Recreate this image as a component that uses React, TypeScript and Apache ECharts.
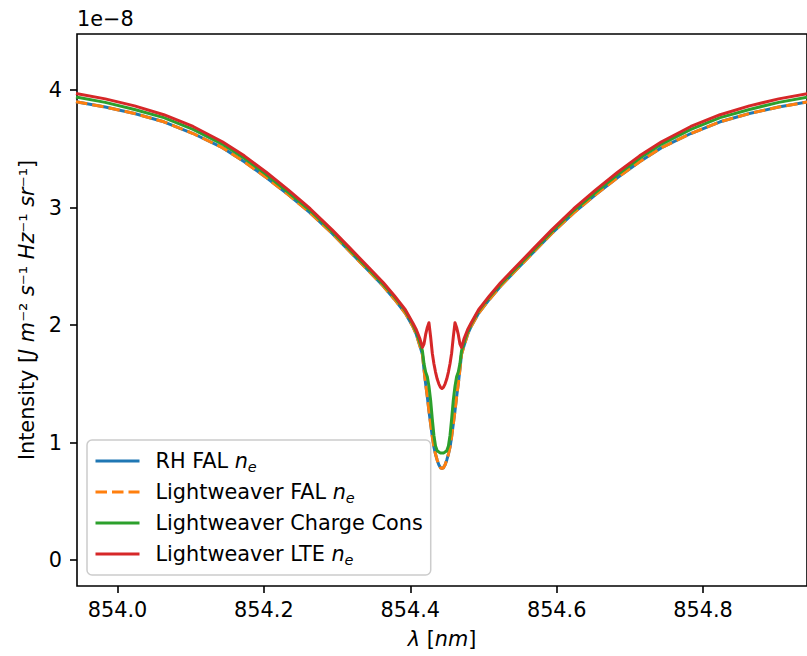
import { useEffect, useRef } from 'react';
import * as echarts from 'echarts';

// Wavelength grid (nm)
const wavelength = [
  853.9433, 853.9833, 854.0233, 854.0633, 854.1033, 854.1433, 854.1733, 854.2033, 854.2333,
  854.2633, 854.2933, 854.3183, 854.3433, 854.3633, 854.3783, 854.3933, 854.4033,
  854.4083, 854.4133, 854.4166, 854.4188, 854.421, 854.4233, 854.4255, 854.4278, 854.4301,
  854.4323, 854.4345, 854.4368, 854.439, 854.4413,
  854.4433,
  854.4453, 854.4476, 854.4498, 854.4521, 854.4543, 854.4565, 854.4588, 854.4611, 854.4633,
  854.4656, 854.4678, 854.47, 854.4733, 854.4783,
  854.4833, 854.4933, 854.5083, 854.5233, 854.5433, 854.5683, 854.5933, 854.6233, 854.6533,
  854.6833, 854.7133, 854.7433, 854.7833, 854.8233, 854.8633, 854.9033, 854.9433,
];

// Intensity (units of 1e-8 J m^-2 s^-1 Hz^-1 sr^-1)
const rhFalNe = [
  3.90, 3.855, 3.80, 3.73, 3.63, 3.51, 3.39, 3.255, 3.11,
  2.955, 2.78, 2.62, 2.46, 2.33, 2.22, 2.10, 1.99,
  1.92, 1.82, 1.75, 1.62, 1.50, 1.39, 1.27, 1.16, 1.05,
  0.96, 0.90, 0.85, 0.81, 0.785,
  0.78,
  0.785, 0.81, 0.85, 0.90, 0.96, 1.05, 1.16, 1.27, 1.39,
  1.50, 1.62, 1.75, 1.82, 1.92,
  1.99, 2.10, 2.22, 2.33, 2.46, 2.62, 2.78, 2.955, 3.11,
  3.255, 3.39, 3.51, 3.63, 3.73, 3.80, 3.855, 3.90,
];

const lwFalNe = [
  3.90, 3.855, 3.80, 3.73, 3.63, 3.51, 3.39, 3.255, 3.11,
  2.955, 2.78, 2.62, 2.46, 2.33, 2.22, 2.10, 1.99,
  1.92, 1.82, 1.75, 1.62, 1.50, 1.39, 1.27, 1.16, 1.05,
  0.96, 0.90, 0.85, 0.81, 0.785,
  0.78,
  0.785, 0.81, 0.85, 0.90, 0.96, 1.05, 1.16, 1.27, 1.39,
  1.50, 1.62, 1.75, 1.82, 1.92,
  1.99, 2.10, 2.22, 2.33, 2.46, 2.62, 2.78, 2.955, 3.11,
  3.255, 3.39, 3.51, 3.63, 3.73, 3.80, 3.855, 3.90,
];

const lwChargeCons = [
  3.94, 3.895, 3.835, 3.765, 3.665, 3.54, 3.42, 3.28, 3.13,
  2.975, 2.795, 2.635, 2.475, 2.345, 2.24, 2.12, 2.01,
  1.94, 1.85, 1.78, 1.67, 1.60, 1.56, 1.48, 1.36, 1.20,
  1.06, 0.97, 0.93, 0.92, 0.91,
  0.91,
  0.91, 0.92, 0.93, 0.97, 1.06, 1.20, 1.36, 1.48, 1.56,
  1.60, 1.67, 1.78, 1.85, 1.94,
  2.01, 2.12, 2.24, 2.345, 2.475, 2.635, 2.795, 2.975, 3.13,
  3.28, 3.42, 3.54, 3.665, 3.765, 3.835, 3.895, 3.94,
];

const lwLteNe = [
  3.97, 3.925, 3.865, 3.79, 3.69, 3.56, 3.44, 3.30, 3.15,
  2.99, 2.81, 2.65, 2.49, 2.36, 2.25, 2.13, 2.02,
  1.96, 1.88, 1.81, 1.84, 1.92, 1.98, 2.02, 1.90, 1.76,
  1.67, 1.60, 1.54, 1.50, 1.47,
  1.46,
  1.47, 1.50, 1.54, 1.60, 1.67, 1.76, 1.90, 2.02, 1.98,
  1.92, 1.84, 1.81, 1.88, 1.96,
  2.02, 2.13, 2.25, 2.36, 2.49, 2.65, 2.81, 2.99, 3.15,
  3.30, 3.44, 3.56, 3.69, 3.79, 3.865, 3.925, 3.97,
];

const seriesNames = ['RH FAL ne', 'Lightweaver FAL ne', 'Lightweaver Charge Cons', 'Lightweaver LTE ne'];
const legendLabels = [
  'RH FAL {it|n}{sub|e}',
  'Lightweaver FAL {it|n}{sub|e}',
  'Lightweaver Charge Cons',
  'Lightweaver LTE {it|n}{sub|e}',
];
const xTicks = [854.0, 854.2, 854.4, 854.6, 854.8];
const yTicks = [0, 1, 2, 3, 4];
const xRange = [853.9447, 854.942];
const yRange = [-0.221, 4.477];

const FONT = 'DejaVu Sans';
const FS = 20.8;

export default function App() {
  const ref = useRef<HTMLDivElement>(null);
  useEffect(() => {
    if (!ref.current) return;
    const chart = echarts.init(ref.current, undefined, { renderer: 'svg' });
    const valuesList = [rhFalNe, lwFalNe, lwChargeCons, lwLteNe];
    const colors = ['#1f77b4', '#ff7f0e', '#2ca02c', '#d62728'];
    const types: any[] = ['solid', [11.5, 5], 'solid', 'solid'];
    const labelMap: Record<string, string> = {};
    seriesNames.forEach((n, i) => (labelMap[n] = legendLabels[i]));

    chart.setOption({
      animation: false,
      backgroundColor: '#ffffff',
      grid: {
        left: 77,
        top: 34,
        right: -9,
        bottom: 70,
        show: true,
        borderColor: '#000000',
        borderWidth: 1.6,
        backgroundColor: 'transparent',
      },
      graphic: [
        {
          type: 'text',
          left: 77,
          top: 8,
          style: { text: '1e\u22128', font: `${FS}px "${FONT}"`, fill: '#000' },
        },
      ],
      legend: {
        orient: 'vertical',
        left: 87,
        top: 440,
        itemWidth: 44,
        itemHeight: 14,
        itemGap: 5,
        padding: [8, 8, 8, 7],
        backgroundColor: 'rgba(255,255,255,0.8)',
        borderColor: '#cccccc',
        borderWidth: 1.5,
        borderRadius: 5,
        data: seriesNames,
        itemStyle: { opacity: 0, borderWidth: 0 },
        lineStyle: { width: 3 },
        formatter: (name: string) => labelMap[name],
        textStyle: {
          fontFamily: FONT,
          fontSize: FS,
          color: '#000',
          lineHeight: 26,
          padding: [0, 0, 0, 11],
          rich: {
            it: { fontFamily: FONT, fontSize: FS, fontStyle: 'italic', color: '#000', lineHeight: 26 },
            sub: {
              fontFamily: FONT,
              fontSize: 14.5,
              fontStyle: 'italic',
              color: '#000',
              lineHeight: 16,
              padding: [10, 0, 0, 0],
              verticalAlign: 'bottom',
            },
          },
        },
      },
      xAxis: {
        type: 'value',
        min: xRange[0],
        max: xRange[1],
        axisLine: { show: false, onZero: false },
        splitLine: { show: false },
        axisTick: {
          show: true,
          customValues: xTicks,
          length: 7,
          lineStyle: { color: '#000', width: 1.6 },
        },
        axisLabel: {
          customValues: xTicks,
          formatter: (v: number) => v.toFixed(1),
          fontFamily: FONT,
          fontSize: FS,
          color: '#000',
          margin: 13,
        },
        name: '{it|\u03bb} [{it|nm}]',
        nameLocation: 'middle',
        nameGap: 42,
        nameTextStyle: {
          fontFamily: FONT,
          fontSize: FS,
          color: '#000',
          rich: { it: { fontFamily: FONT, fontSize: FS, fontStyle: 'italic', color: '#000' } },
        },
      },
      yAxis: {
        type: 'value',
        min: yRange[0],
        max: yRange[1],
        axisLine: { show: false, onZero: false },
        splitLine: { show: false },
        axisTick: {
          show: true,
          customValues: yTicks,
          length: 7,
          lineStyle: { color: '#000', width: 1.6 },
        },
        axisLabel: {
          customValues: yTicks,
          formatter: (v: number) => String(v),
          fontFamily: FONT,
          fontSize: FS,
          color: '#000',
          margin: 15,
        },
        name: 'Intensity [{it|J m}\u207b\u00b2{it| s}\u207b\u00b9{it| Hz}\u207b\u00b9{it| sr}\u207b\u00b9]',
        nameLocation: 'middle',
        nameGap: 39,
        nameRotate: 90,
        nameTextStyle: {
          fontFamily: FONT,
          fontSize: FS,
          color: '#000',
          rich: { it: { fontFamily: FONT, fontSize: FS, fontStyle: 'italic', color: '#000' } },
        },
      },
      series: seriesNames.map((name, i) => ({
        name,
        type: 'line',
        symbol: 'none',
        showSymbol: false,
        clip: true,
        z: 2 + i,
        lineStyle: { color: colors[i], width: 3, type: types[i], cap: 'butt', join: 'round' },
        itemStyle: { color: colors[i] },
        data: wavelength.map((w, j) => [w, valuesList[i][j]]),
      })),
    });
    return () => chart.dispose();
  }, []);
  return (
    <div
      ref={ref}
      style={{ position: 'fixed', left: 0, top: 0, width: 807, height: 656, overflow: 'hidden', background: '#fff' }}
    />
  );
}
